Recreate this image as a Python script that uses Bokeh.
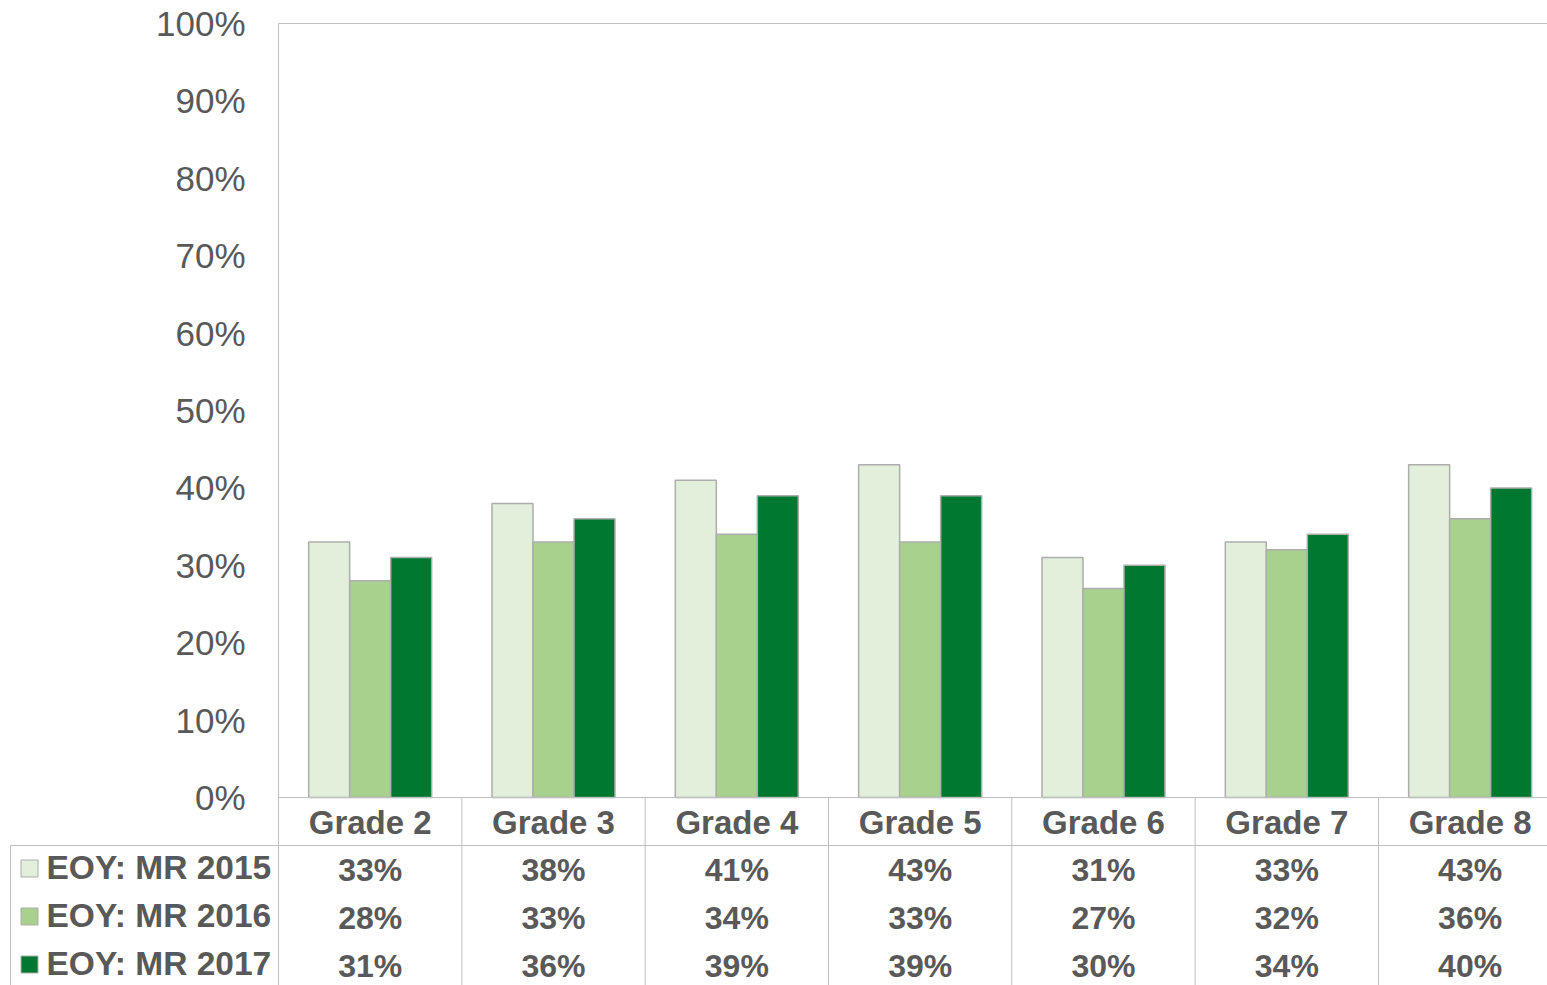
from bokeh.plotting import figure
from bokeh.models import Range1d
from bokeh.core.properties import value
from bokeh.embed import file_html
from bokeh.resources import INLINE

# ---- data ----
grades = ["Grade 2", "Grade 3", "Grade 4", "Grade 5", "Grade 6", "Grade 7", "Grade 8"]
series = ["EOY: MR 2015", "EOY: MR 2016", "EOY: MR 2017"]
mr2015 = [33, 38, 41, 43, 31, 33, 43]
mr2016 = [28, 33, 34, 33, 27, 32, 36]
mr2017 = [31, 36, 39, 39, 30, 34, 40]
y_ticks = [0, 10, 20, 30, 40, 50, 60, 70, 80, 90, 100]
y_tick_labels = [f"{t}%" for t in y_ticks]

# ---- style / layout ----
colors = ["#E2EFDA", "#A9D18E", "#00782F"]
BAR_LINE = "#ADADAD"
GRID = "#BFBFBF"
TXT = "#595959"
FONT = "Liberation Sans"
W, H = 1547, 985
FRAME_LEFT = 278      # px where the plot area starts
AXIS_Y = 797          # px of the 0% line
PLOT_TOP = 23         # px of the 100% line
UNIT = 183.33         # px per category
TABLE_LEFT = 10       # px of the table's left border
HEADER_H = 48
ROW_H = 48

PPU = (AXIS_Y - PLOT_TOP) / 100.0   # px per percent
def px_x(px):
    return (px - FRAME_LEFT) / UNIT
def px_y(px):
    return (AXIS_Y - px) / PPU

n = len(grades)
x_start, x_end = px_x(0), px_x(W)
y_start, y_end = px_y(H), px_y(0)
centers = [i + 0.5 for i in range(n)]
bw = 41 / UNIT
values = [mr2015, mr2016, mr2017]

p = figure(width=W, height=H, x_range=Range1d(x_start, x_end), y_range=Range1d(y_start, y_end),
           output_backend="svg", toolbar_location=None,
           min_border_left=0, min_border_right=0, min_border_top=0, min_border_bottom=0,
           x_axis_location=None, y_axis_location=None,
           outline_line_color=None, background_fill_color="white", border_fill_color="white")
p.xgrid.visible = False
p.ygrid.visible = False

# ---- bars ----
for k, (vals, col) in enumerate(zip(values, colors)):
    p.vbar(x=[c + (k - 1) * bw for c in centers], top=vals, width=bw,
           fill_color=col, line_color=BAR_LINE, line_width=1.5)

# ---- y tick labels ----
p.text(x=[px_x(FRAME_LEFT - 33)] * len(y_ticks), y=y_ticks, text=y_tick_labels,
       text_font=value(FONT), text_font_size="35px", text_color=TXT,
       text_align="right", text_baseline="middle")

# ---- plot area & table borders ----
header_bottom = px_y(AXIS_Y + HEADER_H)
tl = px_x(TABLE_LEFT)
top = y_ticks[-1]
# top border, axis line, header bottom line
p.segment(x0=[0, 0, tl], y0=[top, 0, header_bottom], x1=[x_end] * 3, y1=[top, 0, header_bottom],
          line_color=GRID, line_width=1)
# left border of plot (runs down through the table)
p.segment(x0=[0], y0=[top], x1=[0], y1=[y_start], line_color=GRID, line_width=1)
# category separators in header and table
bounds = list(range(1, n + 1))
p.segment(x0=bounds, y0=[0] * n, x1=bounds, y1=[y_start] * n, line_color=GRID, line_width=1)
# table left border
p.segment(x0=[tl], y0=[header_bottom], x1=[tl], y1=[y_start], line_color=GRID, line_width=1)

# ---- header row: category names ----
p.text(x=centers, y=[px_y(AXIS_Y + 24.5)] * n, text=grades,
       text_font=value(FONT), text_font_style="bold", text_font_size="33px",
       text_color=TXT, text_align="center", text_baseline="middle")

# ---- table rows ----
row_px = [AXIS_Y + HEADER_H + ROW_H * r + ROW_H / 2 for r in range(len(series))]
p.scatter(x=[px_x(29)] * len(series), y=[px_y(v - 1) for v in row_px], marker="square", size=17,
          fill_color=colors, line_color=BAR_LINE, line_width=1)
p.text(x=[px_x(46)] * len(series), y=[px_y(v - 2.5) for v in row_px], text=series,
       text_font=value(FONT), text_font_style="bold", text_font_size="33.5px",
       text_color=TXT, text_align="left", text_baseline="middle")
for rp, vals in zip(row_px, values):
    p.text(x=centers, y=[px_y(rp)] * n, text=[f"{v}%" for v in vals],
           text_font=value(FONT), text_font_style="bold", text_font_size="32px",
           text_color=TXT, text_align="center", text_baseline="middle")

open("out.html", "w").write(file_html(p, INLINE))
